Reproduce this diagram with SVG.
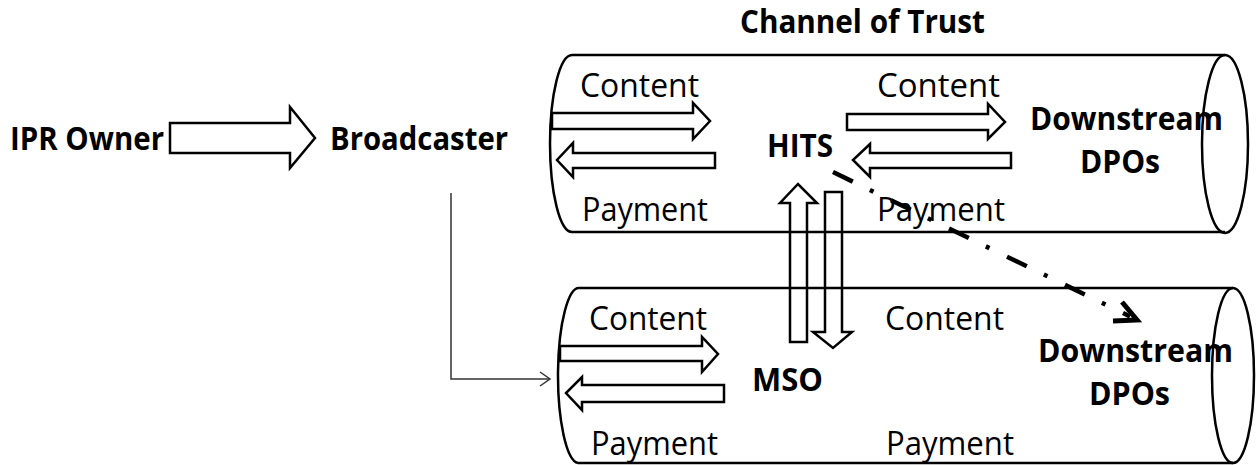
<svg xmlns="http://www.w3.org/2000/svg" width="1257" height="465" viewBox="0 0 1257 465">
<style>
text{font-family:"Open Sans","Noto Sans","Liberation Sans",sans-serif;font-size:32px;fill:#000}
.b{font-weight:bold}
.blk{fill:#fff;stroke:#000;stroke-width:2.5;stroke-linejoin:miter}
.vblk{fill:none;stroke:#000;stroke-width:2.5}
.cyl{fill:none;stroke:#000;stroke-width:2.5}
.thin{fill:none;stroke:#333;stroke-width:1.5}
.dd{fill:none;stroke:#000;stroke-width:4.5;stroke-dasharray:22 19 4 19.5}
</style>
<rect width="1257" height="465" fill="#fff"/>
<g id="title"><text class="b" x="740" y="33" textLength="245" lengthAdjust="spacingAndGlyphs">Channel of Trust</text></g>
<g id="cyl-top">
<path class="cyl" d="M572,55 H1225 M572,232 H1225 M572,55 A22,88.5 0 0 0 572,232"/>
<ellipse class="cyl" cx="1225" cy="144" rx="23" ry="89"/>
</g>
<g id="cyl-bottom">
<path class="cyl" d="M580,288 H1233 M578,463 H1233 M580,288 A21,87.5 0 0 0 578,463"/>
<ellipse class="cyl" cx="1233" cy="375.5" rx="21" ry="87.5"/>
</g>
<g id="ipr-owner"><text class="b" x="10" y="150" textLength="154" lengthAdjust="spacingAndGlyphs">IPR Owner</text></g>
<g id="broadcaster"><text class="b" x="330" y="150" textLength="178" lengthAdjust="spacingAndGlyphs">Broadcaster</text></g>
<g id="hits"><text class="b" x="767" y="157" textLength="66" lengthAdjust="spacingAndGlyphs">HITS</text></g>
<g id="mso"><text class="b" x="752" y="391" textLength="71" lengthAdjust="spacingAndGlyphs">MSO</text></g>
<g id="dpos-top">
<text class="b" x="1030" y="130" textLength="193" lengthAdjust="spacingAndGlyphs">Downstream</text>
<text class="b" x="1080" y="173" textLength="80" lengthAdjust="spacingAndGlyphs">DPOs</text>
</g>
<g id="dpos-bottom">
<text class="b" x="1038" y="362" textLength="195" lengthAdjust="spacingAndGlyphs">Downstream</text>
<text class="b" x="1089" y="405" textLength="81" lengthAdjust="spacingAndGlyphs">DPOs</text>
</g>
<g id="labels">
<text x="580" y="97" textLength="119" lengthAdjust="spacingAndGlyphs">Content</text>
<text x="582" y="221" textLength="126" lengthAdjust="spacingAndGlyphs">Payment</text>
<text x="877" y="97" textLength="123" lengthAdjust="spacingAndGlyphs">Content</text>
<text x="877" y="221" textLength="128" lengthAdjust="spacingAndGlyphs">Payment</text>
<text x="589" y="330" textLength="118" lengthAdjust="spacingAndGlyphs">Content</text>
<text x="591" y="455" textLength="127" lengthAdjust="spacingAndGlyphs">Payment</text>
<text x="885" y="330" textLength="119" lengthAdjust="spacingAndGlyphs">Content</text>
<text x="886" y="455" textLength="128" lengthAdjust="spacingAndGlyphs">Payment</text>
</g>
<g id="connectors">
<polygon class="blk" points="170,123 290,123 290,107 315,138 290,168 290,153 170,153"/>
<polygon class="blk" points="552,113 693,113 693,103 710,121 693,139 693,129 552,129"/>
<polygon class="blk" points="715,153 573,153 573,143 557,160 573,177 573,168 715,168"/>
<polygon class="blk" points="847,114 988,114 988,104 1005,122 988,139 988,130 847,130"/>
<polygon class="blk" points="1011,153 870,153 870,144 853,160 870,177 870,168 1011,168"/>
<polygon class="vblk" points="790,342 790,203 780,203 798,184 817,203 807,203 807,342"/>
<polygon class="vblk" points="825,192 842,192 842,332 852,332 833,348 813,332 825,332"/>
<polygon class="blk" points="560,346 702,346 702,337 718,354 702,372 702,361 560,361"/>
<polygon class="blk" points="724,385 582,385 582,377 566,393 582,410 582,402 724,402"/>
<polyline class="thin" points="451,193 451,379 549,379"/>
<polyline class="thin" points="540,372 550,379 540,386"/>
<line class="dd" x1="833" y1="172" x2="1130" y2="316.5"/>
<path d="M1122,302 L1137,320 L1113,321" fill="none" stroke="#000" stroke-width="5" stroke-linejoin="miter"/>
</g>
</svg>
